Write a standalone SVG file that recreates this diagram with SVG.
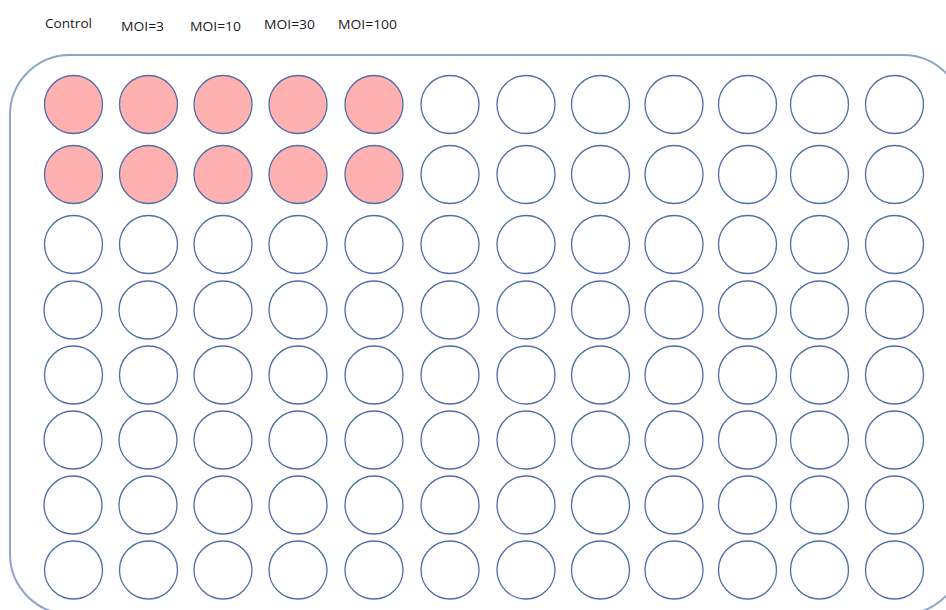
<svg xmlns="http://www.w3.org/2000/svg" width="946" height="610" viewBox="0 0 946 610">
<style>
.lbl{font-family:"Open Sans","Liberation Sans",sans-serif;font-size:13px;fill:#1a1a1a}
.w{fill:#ffffff;stroke:#4f6ea8;stroke-width:1.3}
.p{fill:#ffb0b0;stroke:#4f6ea8;stroke-width:1.3}
.plate{fill:#ffffff;stroke:#8ea4c9;stroke-width:2}
</style>
<rect width="946" height="610" fill="#ffffff"/>
<g id="labels">
<text class="lbl" x="45" y="28" textLength="47" lengthAdjust="spacingAndGlyphs">Control</text>
<text class="lbl" x="121" y="30.5" textLength="43" lengthAdjust="spacingAndGlyphs">MOI=3</text>
<text class="lbl" x="190" y="30.5" textLength="51" lengthAdjust="spacingAndGlyphs">MOI=10</text>
<text class="lbl" x="264" y="29" textLength="51" lengthAdjust="spacingAndGlyphs">MOI=30</text>
<text class="lbl" x="338" y="29" textLength="59" lengthAdjust="spacingAndGlyphs">MOI=100</text>
</g>
<g id="plate"><rect class="plate" x="10" y="55" width="953" height="559" rx="60" ry="60"/></g>
<g id="connectors"></g>
<g id="wells">
<g id="A1"><circle class="p" cx="73.5" cy="104.5" r="29"/></g>
<g id="A2"><circle class="p" cx="148.5" cy="104.5" r="29"/></g>
<g id="A3"><circle class="p" cx="223" cy="104.5" r="29"/></g>
<g id="A4"><circle class="p" cx="298" cy="104.5" r="29"/></g>
<g id="A5"><circle class="p" cx="374" cy="104.5" r="29"/></g>
<g id="A6"><circle class="w" cx="450" cy="104.5" r="29"/></g>
<g id="A7"><circle class="w" cx="526" cy="104.5" r="29"/></g>
<g id="A8"><circle class="w" cx="600.5" cy="104.5" r="29"/></g>
<g id="A9"><circle class="w" cx="674" cy="104.5" r="29"/></g>
<g id="A10"><circle class="w" cx="747.5" cy="104.5" r="29"/></g>
<g id="A11"><circle class="w" cx="819.5" cy="104.5" r="29"/></g>
<g id="A12"><circle class="w" cx="894.5" cy="104.5" r="29"/></g>
<g id="B1"><circle class="p" cx="73.5" cy="174.5" r="29"/></g>
<g id="B2"><circle class="p" cx="148.5" cy="174.5" r="29"/></g>
<g id="B3"><circle class="p" cx="223" cy="174.5" r="29"/></g>
<g id="B4"><circle class="p" cx="298" cy="174.5" r="29"/></g>
<g id="B5"><circle class="p" cx="374" cy="174.5" r="29"/></g>
<g id="B6"><circle class="w" cx="450" cy="174.5" r="29"/></g>
<g id="B7"><circle class="w" cx="526" cy="174.5" r="29"/></g>
<g id="B8"><circle class="w" cx="600.5" cy="174.5" r="29"/></g>
<g id="B9"><circle class="w" cx="674" cy="174.5" r="29"/></g>
<g id="B10"><circle class="w" cx="747.5" cy="174.5" r="29"/></g>
<g id="B11"><circle class="w" cx="819.5" cy="174.5" r="29"/></g>
<g id="B12"><circle class="w" cx="894.5" cy="174.5" r="29"/></g>
<g id="C1"><circle class="w" cx="73.5" cy="244.5" r="29"/></g>
<g id="C2"><circle class="w" cx="148.5" cy="244.5" r="29"/></g>
<g id="C3"><circle class="w" cx="223" cy="244.5" r="29"/></g>
<g id="C4"><circle class="w" cx="298" cy="244.5" r="29"/></g>
<g id="C5"><circle class="w" cx="374" cy="244.5" r="29"/></g>
<g id="C6"><circle class="w" cx="450" cy="244.5" r="29"/></g>
<g id="C7"><circle class="w" cx="526" cy="244.5" r="29"/></g>
<g id="C8"><circle class="w" cx="600.5" cy="244.5" r="29"/></g>
<g id="C9"><circle class="w" cx="674" cy="244.5" r="29"/></g>
<g id="C10"><circle class="w" cx="747.5" cy="244.5" r="29"/></g>
<g id="C11"><circle class="w" cx="819.5" cy="244.5" r="29"/></g>
<g id="C12"><circle class="w" cx="894.5" cy="244.5" r="29"/></g>
<g id="D1"><circle class="w" cx="73" cy="310" r="29"/></g>
<g id="D2"><circle class="w" cx="148" cy="310" r="29"/></g>
<g id="D3"><circle class="w" cx="223" cy="310" r="29"/></g>
<g id="D4"><circle class="w" cx="298" cy="310" r="29"/></g>
<g id="D5"><circle class="w" cx="374" cy="310" r="29"/></g>
<g id="D6"><circle class="w" cx="450" cy="310" r="29"/></g>
<g id="D7"><circle class="w" cx="526" cy="310" r="29"/></g>
<g id="D8"><circle class="w" cx="600.5" cy="310" r="29"/></g>
<g id="D9"><circle class="w" cx="674" cy="310" r="29"/></g>
<g id="D10"><circle class="w" cx="747.5" cy="310" r="29"/></g>
<g id="D11"><circle class="w" cx="819.5" cy="310" r="29"/></g>
<g id="D12"><circle class="w" cx="894.5" cy="310" r="29"/></g>
<g id="E1"><circle class="w" cx="73.5" cy="375" r="29"/></g>
<g id="E2"><circle class="w" cx="148.5" cy="375" r="29"/></g>
<g id="E3"><circle class="w" cx="223" cy="375" r="29"/></g>
<g id="E4"><circle class="w" cx="298" cy="375" r="29"/></g>
<g id="E5"><circle class="w" cx="374" cy="375" r="29"/></g>
<g id="E6"><circle class="w" cx="450" cy="375" r="29"/></g>
<g id="E7"><circle class="w" cx="526" cy="375" r="29"/></g>
<g id="E8"><circle class="w" cx="600.5" cy="375" r="29"/></g>
<g id="E9"><circle class="w" cx="674" cy="375" r="29"/></g>
<g id="E10"><circle class="w" cx="747.5" cy="375" r="29"/></g>
<g id="E11"><circle class="w" cx="819.5" cy="375" r="29"/></g>
<g id="E12"><circle class="w" cx="894.5" cy="375" r="29"/></g>
<g id="F1"><circle class="w" cx="73" cy="440" r="29"/></g>
<g id="F2"><circle class="w" cx="148" cy="440" r="29"/></g>
<g id="F3"><circle class="w" cx="223" cy="440" r="29"/></g>
<g id="F4"><circle class="w" cx="298" cy="440" r="29"/></g>
<g id="F5"><circle class="w" cx="374" cy="440" r="29"/></g>
<g id="F6"><circle class="w" cx="450" cy="440" r="29"/></g>
<g id="F7"><circle class="w" cx="526" cy="440" r="29"/></g>
<g id="F8"><circle class="w" cx="600.5" cy="440" r="29"/></g>
<g id="F9"><circle class="w" cx="674" cy="440" r="29"/></g>
<g id="F10"><circle class="w" cx="747.5" cy="440" r="29"/></g>
<g id="F11"><circle class="w" cx="819.5" cy="440" r="29"/></g>
<g id="F12"><circle class="w" cx="894.5" cy="440" r="29"/></g>
<g id="G1"><circle class="w" cx="73" cy="505" r="29"/></g>
<g id="G2"><circle class="w" cx="148" cy="505" r="29"/></g>
<g id="G3"><circle class="w" cx="223" cy="505" r="29"/></g>
<g id="G4"><circle class="w" cx="298" cy="505" r="29"/></g>
<g id="G5"><circle class="w" cx="374" cy="505" r="29"/></g>
<g id="G6"><circle class="w" cx="450" cy="505" r="29"/></g>
<g id="G7"><circle class="w" cx="526" cy="505" r="29"/></g>
<g id="G8"><circle class="w" cx="600.5" cy="505" r="29"/></g>
<g id="G9"><circle class="w" cx="674" cy="505" r="29"/></g>
<g id="G10"><circle class="w" cx="747.5" cy="505" r="29"/></g>
<g id="G11"><circle class="w" cx="819.5" cy="505" r="29"/></g>
<g id="G12"><circle class="w" cx="894.5" cy="505" r="29"/></g>
<g id="H1"><circle class="w" cx="73.5" cy="570" r="29"/></g>
<g id="H2"><circle class="w" cx="148.5" cy="570" r="29"/></g>
<g id="H3"><circle class="w" cx="223" cy="570" r="29"/></g>
<g id="H4"><circle class="w" cx="298" cy="570" r="29"/></g>
<g id="H5"><circle class="w" cx="374" cy="570" r="29"/></g>
<g id="H6"><circle class="w" cx="450" cy="570" r="29"/></g>
<g id="H7"><circle class="w" cx="526" cy="570" r="29"/></g>
<g id="H8"><circle class="w" cx="600.5" cy="570" r="29"/></g>
<g id="H9"><circle class="w" cx="674" cy="570" r="29"/></g>
<g id="H10"><circle class="w" cx="747.5" cy="570" r="29"/></g>
<g id="H11"><circle class="w" cx="819.5" cy="570" r="29"/></g>
<g id="H12"><circle class="w" cx="894.5" cy="570" r="29"/></g>
</g>
</svg>
